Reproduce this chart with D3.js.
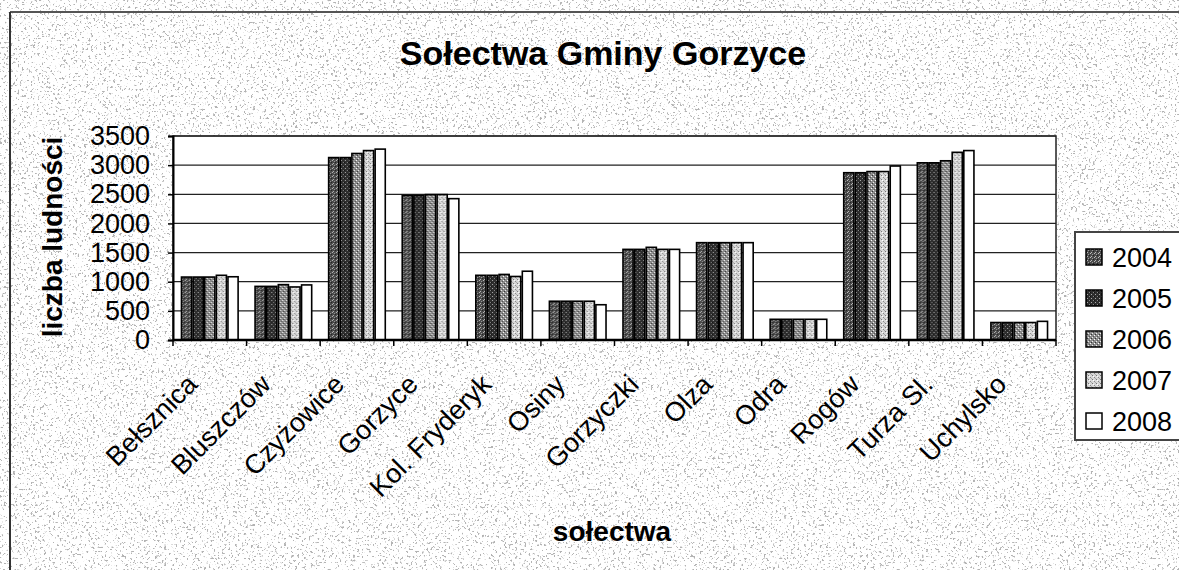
<!DOCTYPE html>
<html>
<head>
<meta charset="utf-8">
<script src="https://cdn.jsdelivr.net/npm/d3@7"></script>
<style>
  html, body { margin: 0; padding: 0; background: #fff; }
  svg { display: block; font-family: "Liberation Sans", Arial, sans-serif; }
</style>
</head>
<body>
<svg id="chart" width="1179" height="570"></svg>
<script>
const categories = ["Bełsznica", "Bluszczów", "Czyżowice", "Gorzyce", "Kol. Fryderyk", "Osiny",
                    "Gorzyczki", "Olza", "Odra", "Rogów", "Turza Sl.", "Uchylsko"];
const years = ["2004", "2005", "2006", "2007", "2008"];
const s2004 = [1080, 920, 3130, 2480, 1110, 665, 1555, 1670, 355, 2870, 3040, 300];
const s2005 = [1080, 920, 3130, 2480, 1110, 665, 1555, 1670, 355, 2870, 3040, 300];
const s2006 = [1080, 950, 3200, 2495, 1125, 665, 1590, 1670, 355, 2890, 3075, 300];
const s2007 = [1110, 910, 3250, 2495, 1090, 665, 1555, 1670, 355, 2890, 3220, 300];
const s2008 = [1085, 945, 3275, 2425, 1180, 605, 1555, 1670, 355, 2985, 3250, 320];
const yTicks = [0, 500, 1000, 1500, 2000, 2500, 3000, 3500];
const titleText = "Sołectwa Gminy Gorzyce";
const yTitle = "liczba ludności";
const xTitle = "sołectwa";

const seriesList = [s2004, s2005, s2006, s2007, s2008];

const svg = d3.select("#chart");
const W = 1179, H = 570;
const plot = { left: 173, right: 1056, top: 136, bottom: 340 };

const defs = svg.append("defs");
// speckled scan background
const f = defs.append("filter").attr("id", "noise")
  .attr("filterUnits", "userSpaceOnUse").attr("x", 0).attr("y", 0).attr("width", W).attr("height", H);
f.append("feTurbulence").attr("type", "fractalNoise").attr("baseFrequency", "0.45")
  .attr("numOctaves", 2).attr("seed", 7);
f.append("feColorMatrix").attr("type", "matrix")
  .attr("values", "0 0 0 0 0.45  0 0 0 0 0.45  0 0 0 0 0.45  12 0 0 0 -7.3");

// bar fill patterns
function makePattern(id, base, dots) {
  const p = defs.append("pattern").attr("id", id).attr("patternUnits", "userSpaceOnUse")
    .attr("width", 4).attr("height", 4);
  p.append("rect").attr("width", 4).attr("height", 4).attr("fill", base);
  dots.forEach(d => p.append("rect").attr("x", d[0]).attr("y", d[1]).attr("width", 1).attr("height", 1).attr("fill", d[2]));
}
makePattern("p2004", "#4a4a4a", [[0,0,"#bdbdbd"],[2,1,"#999"],[1,3,"#bbb"],[3,2,"#222"]]);
makePattern("p2005", "#2e2e2e", [[1,0,"#aaa"],[3,2,"#888"],[0,2,"#111"]]);
makePattern("p2006", "#8c8c8c", [[0,0,"#fff"],[2,2,"#eee"],[1,3,"#333"],[3,1,"#555"]]);
makePattern("p2007", "#d8d8d8", [[0,1,"#888"],[2,3,"#777"],[3,0,"#fff"],[1,2,"#aaa"]]);
makePattern("p2008", "#ffffff", []);
const fills = years.map(y => "url(#p" + y + ")");

// background
svg.append("rect").attr("width", W).attr("height", H).attr("fill", "#fff");
svg.append("rect").attr("x", 10).attr("y", 12).attr("width", W - 10).attr("height", H - 12)
  .attr("fill", "#fff");
svg.append("rect").attr("x", 10).attr("y", 12).attr("width", W - 10).attr("height", H - 12)
  .attr("fill", "#000").attr("filter", "url(#noise)");
svg.append("line").attr("x1", 10).attr("x2", W).attr("y1", 12).attr("y2", 12)
  .attr("stroke", "#555").attr("stroke-width", 2);
svg.append("line").attr("x1", 10).attr("x2", 10).attr("y1", 12).attr("y2", H)
  .attr("stroke", "#333").attr("stroke-width", 2);

// scales
const x = d3.scaleBand().domain(categories).range([plot.left, plot.right])
  .paddingInner(0.21).paddingOuter(0.105);
const xs = d3.scaleBand().domain(years).range([0, x.bandwidth()]).padding(0);
const y = d3.scaleLinear().domain([0, 3500]).range([plot.bottom, plot.top]);

// plot area
svg.append("rect").attr("x", plot.left).attr("y", plot.top)
  .attr("width", plot.right - plot.left).attr("height", plot.bottom - plot.top)
  .attr("fill", "#fff").attr("stroke", "#222").attr("stroke-width", 1.5);

// gridlines
svg.append("g").selectAll("line").data(yTicks.slice(1)).join("line")
  .attr("x1", plot.left).attr("x2", plot.right)
  .attr("y1", d => y(d)).attr("y2", d => y(d))
  .attr("stroke", "#222").attr("stroke-width", 1.2);

// bars
const groups = svg.append("g").selectAll("g").data(categories).join("g")
  .attr("transform", c => `translate(${x(c)},0)`);
groups.selectAll("rect")
  .data((c, i) => years.map((yr, j) => ({ yr, j, v: seriesList[j][i] })))
  .join("rect")
  .attr("x", d => xs(d.yr) + 0.75)
  .attr("width", xs.bandwidth() - 1.5)
  .attr("y", d => y(d.v))
  .attr("height", d => y(0) - y(d.v))
  .attr("fill", d => fills[d.j])
  .attr("stroke", "#000").attr("stroke-width", 1.6);

// y axis
const yAxis = svg.append("g").attr("transform", `translate(${plot.left},0)`)
  .call(d3.axisLeft(y).tickValues(yTicks).tickFormat(d3.format("d")).tickSize(5).tickPadding(18));
yAxis.select(".domain").attr("stroke", "#000").attr("stroke-width", 2);
yAxis.selectAll(".tick line").attr("stroke", "#000").attr("stroke-width", 1.5);
yAxis.selectAll(".tick text").attr("font-size", 27).attr("fill", "#000")
  .attr("font-family", "'Liberation Sans', Arial, sans-serif");

// x axis
const step = x.step();
const bounds = categories.map(c => x(c) - step * x.paddingInner() / 2).concat([plot.right]);
svg.append("line").attr("x1", plot.left).attr("x2", plot.right)
  .attr("y1", plot.bottom).attr("y2", plot.bottom).attr("stroke", "#000").attr("stroke-width", 2.5);
svg.append("g").selectAll("line").data(bounds).join("line")
  .attr("x1", d => d).attr("x2", d => d)
  .attr("y1", plot.bottom).attr("y2", plot.bottom + 6)
  .attr("stroke", "#000").attr("stroke-width", 1.5);
svg.append("g").selectAll("text").data(categories).join("text")
  .attr("transform", c => `translate(${x(c) + x.bandwidth() / 2 - 11},386) rotate(-45)`)
  .attr("text-anchor", "end")
  .attr("font-size", 27).attr("fill", "#000")
  .text(c => c);

// titles
svg.append("text").attr("x", 603).attr("y", 65).attr("text-anchor", "middle")
  .attr("font-size", 34).attr("font-weight", "bold").text(titleText);
svg.append("text").attr("transform", "translate(62,237) rotate(-90)").attr("text-anchor", "middle")
  .attr("font-size", 28).attr("font-weight", "bold").text(yTitle);
svg.append("text").attr("x", 612).attr("y", 541).attr("text-anchor", "middle")
  .attr("font-size", 28).attr("font-weight", "bold").text(xTitle);

// legend
const lg = svg.append("g");
lg.append("rect").attr("x", 1075).attr("y", 232).attr("width", 130).attr("height", 208)
  .attr("fill", "#fff").attr("stroke", "#444").attr("stroke-width", 2);
const ly = d3.scalePoint().domain(years).range([257, 421]);
const items = lg.selectAll("g").data(years).join("g")
  .attr("transform", yr => `translate(1086,${ly(yr)})`);
items.append("rect").attr("x", 0).attr("y", -8).attr("width", 16).attr("height", 16)
  .attr("fill", (yr, j) => fills[j]).attr("stroke", "#000").attr("stroke-width", 1.5);
items.append("text").attr("x", 26).attr("y", 10).attr("font-size", 27).attr("fill", "#000")
  .text(yr => yr);
</script>
</body>
</html>
